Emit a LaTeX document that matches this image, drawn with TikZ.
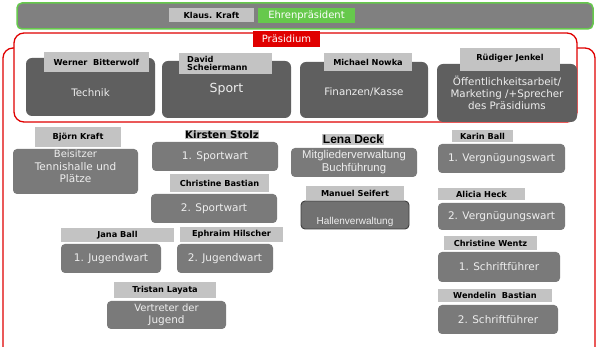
\documentclass[tikz,border=0pt]{standalone}
\usepackage{fontspec}
\setmainfont{DejaVu Sans}
\newfontfamily\arialf{Liberation Sans}
\definecolor{pgrey}{HTML}{5F5F5F}
\definecolor{lgrey}{HTML}{7A7A7A}
\definecolor{hgrey}{HTML}{717171}
\definecolor{tagc}{HTML}{C3C3C3}
\definecolor{bannerc}{HTML}{808080}
\definecolor{greenc}{HTML}{66C94C}
\definecolor{redc}{HTML}{E00000}
\definecolor{txtc}{HTML}{EEEEEE}
\tikzset{
  pbox/.style={fill=pgrey, rounded corners=6pt, inner sep=0pt},
  pboxtxt/.style={text=txtc, font=\fontsize{10.3}{11.8}\selectfont, align=center, inner sep=0pt},
  lbox/.style={fill=lgrey, rounded corners=4pt, inner sep=0pt},
  lboxtxt/.style={text=txtc, font=\fontsize{10.5}{12.5}\selectfont, align=center, inner sep=0pt},
  hbox/.style={fill=hgrey, draw=black!75, line width=0.9pt, rounded corners=4pt, inner sep=0pt},
  hboxtxt/.style={text=txtc, font=\arialf\fontsize{10}{12}\selectfont, align=center, inner sep=0pt},
  mbox/.style={fill=lgrey, rounded corners=4pt, inner sep=0pt},
  mboxtxt/.style={text=txtc, font=\arialf\fontsize{11.3}{13}\selectfont, align=center, inner sep=0pt},
  tag/.style={fill=tagc, inner sep=0pt},
  tagtxt/.style={text=black, font=\bfseries\fontsize{8.2}{10}\selectfont, align=center, inner sep=0pt},
  frame/.style={draw=redc, line width=1.3pt, rounded corners=10pt},
}
% style, name, x1, y1, x2, y2, text, downward text shift
\newcommand\mkbox[8]{%
  \node[#1, minimum width={(#5-#3)*1pt}, minimum height={(#6-#4)*1pt}]
    (#2) at ({(#3+#5)/2},{(#4+#6)/2}) {};
  \node[#1txt, yshift={-(#8)*1pt}] (#2-t) at (#2.center) {#7};}
\begin{document}
\begin{tikzpicture}[x=1pt,y=-1pt]
\clip (0,0) rectangle (600,347);
\fill[white] (0,0) rectangle (600,347);
% top banner
\node[fill=bannerc, draw=greenc, line width=1.5pt, rounded corners=5pt,
      minimum width=576pt, minimum height=26pt, inner sep=0pt] (banner) at (305,16) {};
\mkbox{tag}{klaus}{169}{8}{254}{22}{Klaus. Kraft}{0}
\node[fill=greenc, text=white, font=\fontsize{10}{12}\selectfont, inner sep=0pt,
      minimum width=97pt, minimum height=15pt] (ehren) at (306.5,15.5) {Ehrenpräsident};
% frames
\draw[frame] (3,400) -- (3,48) -- (595,48) -- (595,400);
\draw[frame, fill=white] (14,33) rectangle (577,122);
\node[fill=redc, text=white, font=\fontsize{10}{12}\selectfont, inner sep=0pt,
      minimum width=67pt, minimum height=16pt] (praes) at (286.5,39) {Präsidium};
% Praesidium boxes
\mkbox{pbox}{technik}{26}{58}{155}{116}{Technik}{6}
\mkbox{pbox}{sport}{162}{61}{291}{118}{\fontsize{12.5}{14}\selectfont Sport}{0}
\mkbox{pbox}{finanzen}{300}{62}{428}{118}{Finanzen/Kasse}{2}
\mkbox{pbox}{oeff}{437}{64}{577}{122}{Öffentlichkeitsarbeit/\\Marketing /+Sprecher\\des Präsidiums}{0}
\mkbox{tag}{werner}{44}{52}{149}{72}{Werner\ \ Bitterwolf}{0}
\node[tag, minimum width=93pt, minimum height=21pt] (david) at (225.5,63.5) {};
\node[tagtxt, align=left, anchor=west] (david-t) at (187,63.5) {David\\[-1.5pt]Scheiermann};
\mkbox{tag}{michael}{324}{53}{412}{71}{Michael Nowka}{0}
\mkbox{tag}{ruediger}{460}{48}{560}{71}{Rüdiger Jenkel}{-1}
% lower boxes
\mkbox{lbox}{beisitzer}{13}{149}{138}{194}{\fontsize{10}{12.5}\selectfont Beisitzer\\Tennishalle und\\Plätze}{-5}
\mkbox{tag}{bjoern}{35}{127}{121}{147}{Björn Kraft}{0}
\node[fill=tagc, inner sep=0.6pt, font=\bfseries\fontsize{10.2}{11}\selectfont] (kirsten) at (222,134.5) {Kirsten Stolz};
\mkbox{lbox}{sport1}{152}{142}{278}{171}{1. Sportwart}{0}
\mkbox{tag}{christineb}{170}{174}{269}{192}{Christine Bastian}{0}
\mkbox{lbox}{sport2}{151}{194}{277}{223}{2. Sportwart}{0}
\node[fill=tagc, inner sep=0.6pt, font=\arialf\bfseries\fontsize{12}{13}\selectfont] (lena) at (353,139.5) {Lena Deck};
\mkbox{mbox}{mitglied}{291}{148}{417}{177}{Mitgliederverwaltung\\Buchführung}{0}
\mkbox{tag}{manuel}{306}{186}{404}{200}{Manuel Seifert}{0}
\mkbox{hbox}{hallen}{301}{201}{409}{229}{Hallenverwaltung}{7}
\mkbox{tag}{karin}{452}{130}{513}{142}{Karin Ball}{0}
\mkbox{lbox}{vg1}{438}{144}{565}{173}{1. Vergnügungswart}{0}
\mkbox{tag}{alicia}{438}{188}{525}{200}{Alicia Heck}{0}
\mkbox{lbox}{vg2}{438}{203}{565}{230}{2. Vergnügungswart}{0}
\mkbox{tag}{jana}{61}{228}{174}{242}{Jana Ball}{0}
\mkbox{tag}{ephraim}{180}{227}{283}{242}{Ephraim Hilscher}{0}
\mkbox{lbox}{jw1}{61}{244}{161}{273}{1. Jugendwart}{0}
\mkbox{lbox}{jw2}{177}{244}{273}{273}{2. Jugendwart}{0}
\mkbox{tag}{tristan}{114}{282}{216}{298}{Tristan Layata}{0}
\mkbox{lbox}{vdj}{107}{301}{226}{329}{\fontsize{10}{12}\selectfont Vertreter der\\Jugend}{0}
\mkbox{tag}{christinew}{444}{236}{537}{250}{Christine Wentz}{0}
\mkbox{lbox}{sf1}{438}{252}{560}{282}{1. Schriftführer}{0}
\mkbox{tag}{wendelin}{438}{289}{552}{302}{Wendelin\ \ Bastian}{0}
\mkbox{lbox}{sf2}{438}{305}{558}{334}{2. Schriftführer}{0}
\end{tikzpicture}
\end{document}
